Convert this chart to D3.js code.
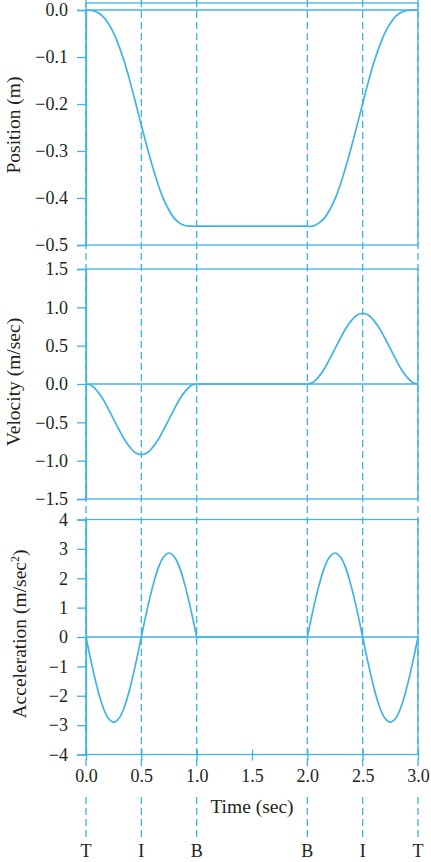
<!DOCTYPE html>
<html><head><meta charset="utf-8">
<script src="https://cdn.jsdelivr.net/npm/d3@7"></script>
<style>
body{margin:0;background:#fff}
text{font-family:"Liberation Serif","Times New Roman",serif;fill:#231f20}
</style>
</head><body><svg id="c" width="431" height="862"></svg>
<script>
// ---- data ----
const TIME_OUT  = [0,0.05,0.1,0.15,0.2,0.25,0.3,0.35,0.4,0.45,0.5,0.55,0.6,0.65,0.7,0.75,0.8,0.85,0.9,0.95,1.0];
const TIME_BACK = [2.0,2.05,2.1,2.15,2.2,2.25,2.3,2.35,2.4,2.45,2.5,2.55,2.6,2.65,2.7,2.75,2.8,2.85,2.9,2.95,3.0];
const TIME_DWELL = [1.0, 2.0];

const POS_OUT  = [0,-0.001,-0.005,-0.013,-0.028,-0.049,-0.078,-0.113,-0.154,-0.199,-0.245,-0.290,-0.332,-0.370,-0.402,-0.426,-0.444,-0.454,-0.459,-0.460,-0.460];
const POS_BACK = [-0.460,-0.460,-0.454,-0.444,-0.426,-0.402,-0.370,-0.332,-0.290,-0.245,-0.199,-0.154,-0.113,-0.078,-0.049,-0.028,-0.013,-0.005,-0.001,0,0];
const POS_DWELL = [-0.460,-0.460];

const VEL_OUT  = [0,-0.02,-0.09,-0.19,-0.32,-0.46,-0.60,-0.73,-0.83,-0.90,-0.92,-0.90,-0.83,-0.73,-0.60,-0.46,-0.32,-0.19,-0.09,-0.02,0];
const VEL_BACK = [0,0.02,0.09,0.19,0.32,0.46,0.60,0.73,0.83,0.90,0.92,0.90,0.83,0.73,0.60,0.46,0.32,0.19,0.09,0.02,0];
const VEL_DWELL = [0,0];

const ACC_OUT  = [0,-0.90,-1.70,-2.35,-2.76,-2.90,-2.76,-2.35,-1.70,-0.90,0,0.89,1.68,2.32,2.72,2.86,2.72,2.32,1.68,0.89,0];
const ACC_BACK = [0,0.89,1.68,2.32,2.72,2.86,2.72,2.32,1.68,0.89,0,-0.90,-1.70,-2.35,-2.76,-2.90,-2.76,-2.35,-1.70,-0.90,0];
const ACC_DWELL = [0,0];

const X_TICKS = [0,0.5,1.0,1.5,2.0,2.5,3.0];
const POS_TICKS = [0,-0.1,-0.2,-0.3,-0.4,-0.5];
const VEL_TICKS = [1.5,1.0,0.5,0,-0.5,-1.0,-1.5];
const ACC_TICKS = [4,3,2,1,0,-1,-2,-3,-4];
const MARKER_TIMES  = [0,0.5,1.0,2.0,2.5,3.0];
const MARKER_LABELS = ["T","I","B","B","I","T"];

// ---- drawing ----
const BLUE = "#40b3e6";
const svg = d3.select("#c");
const x = d3.scaleLinear().domain([0,3]).range([86,418]);

const panels = [
  {title:"Position (m)", ticks:POS_TICKS, fmt:d3.format(".1f"), domain:[-0.5,0], range:[245,10], topPx:3,
   out:POS_OUT, back:POS_BACK, dwell:POS_DWELL, lx:20, ly:125},
  {title:"Velocity (m/sec)", ticks:VEL_TICKS, fmt:d3.format(".1f"), domain:[-1.5,1.5], range:[499,269], topPx:269,
   out:VEL_OUT, back:VEL_BACK, dwell:VEL_DWELL, lx:20, ly:382},
  {title:"Acceleration (m/sec", sup:"2", ticks:ACC_TICKS, fmt:d3.format("d"), domain:[-4,4], range:[754.5,519.5], topPx:519.5,
   out:ACC_OUT, back:ACC_BACK, dwell:ACC_DWELL, lx:26, ly:634}
];

// dashed marker lines (behind)
const dash = svg.append("g").attr("stroke",BLUE).attr("stroke-width",1.3).attr("stroke-dasharray","7,4");
MARKER_TIMES.forEach(t=>{
  dash.append("line").attr("x1",x(t)).attr("x2",x(t)).attr("y1",0).attr("y2",768);
  dash.append("line").attr("x1",x(t)).attr("x2",x(t)).attr("y1",797).attr("y2",838);
});

panels.forEach(p=>{
  const y = d3.scaleLinear().domain(p.domain).range(p.range);
  const g = svg.append("g");
  const bottom = p.range[0];
  g.append("rect").attr("x",x(0)).attr("y",p.topPx).attr("width",x(3)-x(0)).attr("height",bottom-p.topPx)
    .attr("fill","none").attr("stroke",BLUE).attr("stroke-width",1.3);
  g.append("line").attr("x1",x(0)).attr("x2",x(3)).attr("y1",y(0)).attr("y2",y(0))
    .attr("stroke",BLUE).attr("stroke-width",1.3);
  const ax = g.append("g").attr("transform",`translate(${x(0)},0)`)
    .call(d3.axisLeft(y).tickValues(p.ticks).tickFormat(p.fmt).tickSize(9).tickPadding(9));
  ax.select(".domain").attr("stroke",BLUE).attr("stroke-width",1.3);
  ax.selectAll(".tick line").attr("stroke",BLUE).attr("stroke-width",1.3);
  ax.selectAll(".tick text").attr("font-size",18).attr("fill","#231f20");
  const line = d3.line().x(d=>x(d[0])).y(d=>y(d[1])).curve(d3.curveCatmullRom);
  const segs = [
    TIME_OUT.map((t,i)=>[t,p.out[i]]),
    TIME_DWELL.map((t,i)=>[t,p.dwell[i]]),
    TIME_BACK.map((t,i)=>[t,p.back[i]])
  ];
  segs.forEach(s=>g.append("path").attr("d",line(s)).attr("fill","none")
    .attr("stroke",BLUE).attr("stroke-width",1.7));
  const tt = g.append("text").attr("transform",`translate(${p.lx},${p.ly}) rotate(-90)`)
    .attr("text-anchor","middle").attr("font-size",19.5).text(p.title);
  if (p.sup){
    tt.append("tspan").attr("font-size",12).attr("dy",-7).text(p.sup);
    tt.append("tspan").attr("dy",7).text(")");
  }
});

const xa = svg.append("g").attr("transform","translate(0,754.5)")
  .call(d3.axisBottom(x).tickValues(X_TICKS).tickFormat(d3.format(".1f")).tickSize(6).tickPadding(9));
xa.select(".domain").remove();
xa.selectAll(".tick line").attr("stroke",BLUE).attr("stroke-width",1.3).attr("y1",-5);
xa.selectAll(".tick text").attr("font-size",18).attr("fill","#231f20");

svg.append("text").attr("x",(x(1)+x(2))/2).attr("y",813).attr("text-anchor","middle")
  .attr("font-size",19.5).text("Time (sec)");

svg.append("g").selectAll("text").data(MARKER_TIMES).join("text")
  .attr("x",d=>x(d)).attr("y",857).attr("text-anchor","middle").attr("font-size",18)
  .text((d,i)=>MARKER_LABELS[i]);
</script>
</body></html>
